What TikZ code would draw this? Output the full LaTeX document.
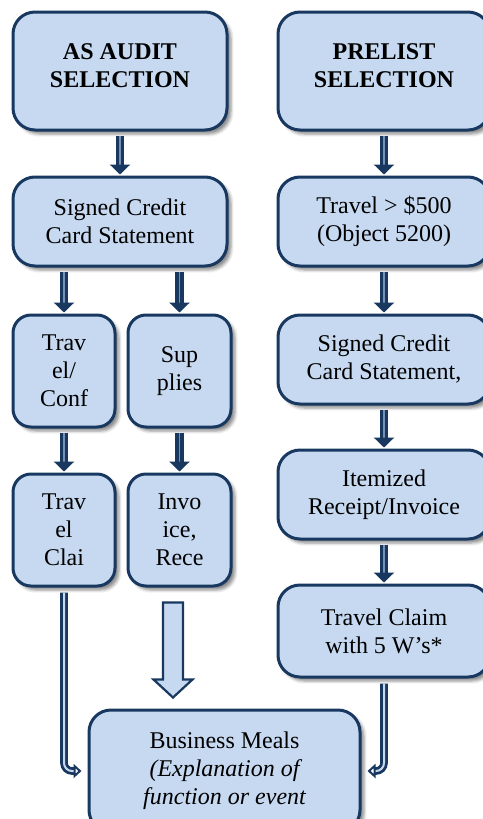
\documentclass[tikz,border=0pt]{standalone}
\usepackage{fontspec}
\setmainfont{Liberation Serif}
\usetikzlibrary{arrows.meta,shadows.blur,calc}
\definecolor{boxfill}{RGB}{198,217,241}
\definecolor{boxline}{RGB}{24,56,96}
\definecolor{innerline}{RGB}{120,145,180}
\begin{document}
\begin{tikzpicture}[x=1pt,y=-1pt,
  box/.style={draw=boxline, line width=3pt, fill=boxfill, rounded corners=22pt,
    align=center, inner sep=0pt,
    font=\fontsize{24}{28}\selectfont,
    blur shadow={shadow xshift=4pt, shadow yshift=-4pt, shadow blur radius=3pt, shadow opacity=45}},
  smallbox/.style={box, rounded corners=18pt},
  conn/.style={draw=boxline, line width=3.5pt, double=innerline, double distance=1.2pt,
    -{Triangle[width=20pt,length=10pt]}, shorten <=4pt, shorten >=1pt},
  elbow/.style={draw=boxline, line width=2.8pt, double=boxfill, double distance=2pt,
    rounded corners=8pt, -{Triangle[open,width=14pt,length=8pt]}, shorten >=6pt, shorten <=5pt},
  blockarrow/.style={draw=boxline, line width=2.2pt, fill=boxfill, line join=miter}
]
\useasboundingbox (0,0) rectangle (482,819);

\node[box, minimum width=214pt, minimum height=118pt, text depth=10pt] (A) at (120,71)
  {\bfseries AS AUDIT\\\bfseries SELECTION};
\node[box, minimum width=212pt, minimum height=118pt, text depth=10pt] (P) at (384,71)
  {\bfseries PRELIST\\\bfseries SELECTION};

\node[box, minimum width=214pt, minimum height=89pt] (S1) at (120,221.5)
  {Signed Credit\\Card Statement};
\node[box, minimum width=212pt, minimum height=89pt] (T5) at (384,221.5)
  {Travel > \$500\\(Object 5200)};

\node[smallbox, minimum width=102pt, minimum height=112pt] (TC) at (64,371)
  {Trav\\el/\\Conf};
\node[smallbox, minimum width=103pt, minimum height=112pt] (SU) at (179.5,371)
  {Sup\\plies};
\node[box, minimum width=212pt, minimum height=89pt] (S2) at (384,359.5)
  {Signed Credit\\Card Statement,};

\node[box, minimum width=212pt, minimum height=89pt] (IR) at (384,494.5)
  {Itemized\\Receipt/Invoice};
\node[smallbox, minimum width=102pt, minimum height=112pt] (TL) at (64,530)
  {Trav\\el\\Clai};
\node[smallbox, minimum width=103pt, minimum height=112pt] (IN) at (179.5,530)
  {Invo\\ice,\\Rece};

\node[box, minimum width=212pt, minimum height=92pt] (TW) at (384,631)
  {Travel Claim\\with 5 W’s*};

\node[box, minimum width=271pt, minimum height=122pt] (BM) at (224.5,771)
  {Business Meals\\\itshape (Explanation of\\\itshape function or event};

% connectors
\draw[conn] (A.south) -- (S1.north);
\draw[conn] (P.south) -- (T5.north);
\draw[conn] (S1.south -| TC.north) -- (TC.north);
\draw[conn] (S1.south -| SU.north) -- (SU.north);
\draw[conn] (TC.south) -- (TL.north);
\draw[conn] (SU.south) -- (IN.north);
\draw[conn] (T5.south) -- (S2.north);
\draw[conn] (S2.south) -- (IR.north);
\draw[conn] (IR.south) -- (TW.north);

\draw[elbow] (TL.south) |- (BM.west);
\draw[elbow] (TW.south) |- (BM.east);

% block arrow from Invoice column to Business Meals
\coordinate (ba) at ($(IN.south)+(-6.5,0)$);
\draw[blockarrow] ($(ba)+(-10,15)$) -- ($(ba)+(10,15)$) -- ($(ba)+(10,92)$)
  -- ($(ba)+(19.5,92)$) -- ($(ba)+(0,110)$) -- ($(ba)+(-19.5,92)$)
  -- ($(ba)+(-10,92)$) -- cycle;
\end{tikzpicture}
\end{document}
